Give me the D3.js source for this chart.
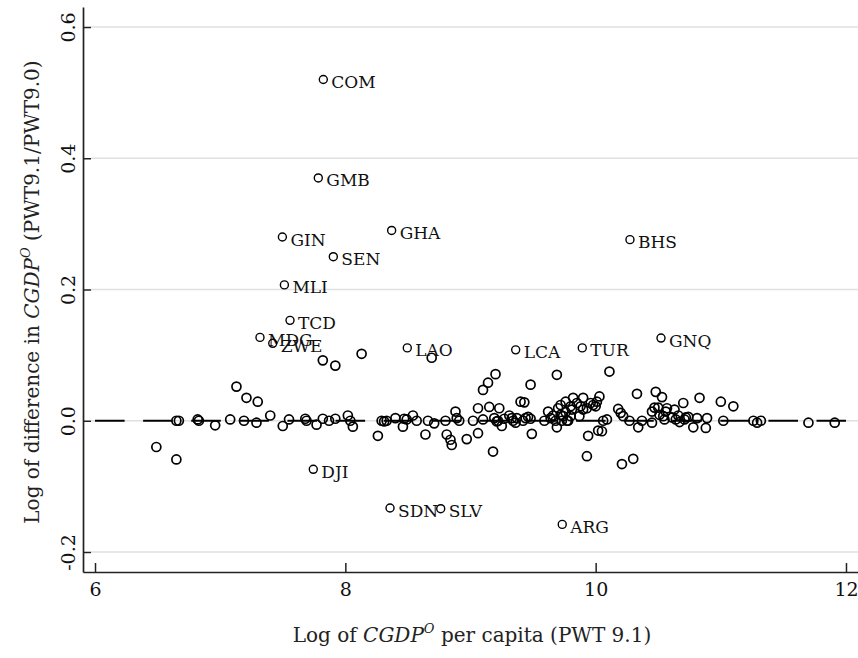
<!DOCTYPE html>
<html>
<head>
<meta charset="utf-8">
<script src="https://cdn.jsdelivr.net/npm/d3@7"></script>
<style>
body { margin:0; background:#fff; }
</style>
</head>
<body>
<script>
// unlabelled countries: log CGDPo per capita, log difference
var gdpX = [6.49,6.65,6.65,6.67,6.82,6.83,6.96,7.08,7.13,7.19,7.21,7.29,7.30,7.40,7.50,7.55,7.68,7.69,7.77,7.82,
	7.82,7.87,7.92,7.92,8.02,8.04,8.06,8.13,8.26,8.29,8.31,8.33,8.40,8.46,8.47,8.49,8.54,8.57,8.64,8.66,
	8.69,8.71,8.80,8.81,8.84,8.85,8.88,8.89,8.91,8.97,9.02,9.06,9.06,9.10,9.10,9.14,9.20,9.15,9.19,9.21,
	9.22,9.23,9.25,9.18,9.27,9.31,9.33,9.34,9.36,9.37,9.40,9.43,9.42,9.44,9.46,9.48,9.48,9.49,9.59,9.62,
	9.64,9.66,9.68,9.69,9.69,9.70,9.72,9.72,9.73,9.74,9.76,9.76,9.77,9.78,9.80,9.80,9.81,9.82,9.85,9.87,
	9.88,9.90,9.90,9.93,9.93,9.94,9.96,9.98,10.00,10.01,10.02,10.03,10.05,10.06,10.09,10.11,10.18,10.20,10.21,10.22,
	10.27,10.30,10.33,10.34,10.37,10.45,10.45,10.48,10.47,10.50,10.53,10.51,10.54,10.56,10.57,10.55,10.63,10.61,10.64,10.66,
	10.67,10.70,10.71,10.72,10.74,10.78,10.81,10.83,10.88,10.89,11.00,11.02,11.10,11.26,11.29,11.32,11.70,11.91];
var diffY = [-0.040,-0.059,0.000,0.000,0.002,0.000,-0.007,0.002,0.052,0.000,0.035,-0.003,0.029,0.008,-0.008,0.002,0.003,0.000,-0.006,0.003,
	0.092,0.000,0.003,0.084,0.008,0.000,-0.009,0.102,-0.023,0.000,-0.001,0.000,0.004,-0.009,0.003,0.002,0.008,0.000,-0.021,0.000,
	0.096,-0.004,0.000,-0.021,-0.029,-0.037,0.014,0.004,0.000,-0.028,0.000,0.019,-0.019,0.047,0.002,0.058,0.071,0.021,0.004,-0.001,
	0.000,0.019,-0.008,-0.047,0.003,0.008,0.004,0.000,-0.003,0.004,0.029,0.028,0.000,0.004,0.006,0.055,0.003,-0.020,0.000,0.014,
	0.004,0.008,0.000,-0.010,0.070,0.019,0.009,0.024,0.000,0.007,0.013,0.029,0.000,0.000,0.007,0.022,0.017,0.035,0.027,0.007,
	0.022,0.035,0.017,0.019,-0.054,-0.023,0.027,0.024,0.022,0.029,-0.015,0.037,-0.016,0.000,0.002,0.075,0.018,0.012,-0.066,0.007,
	0.000,-0.058,0.041,-0.010,0.000,-0.003,0.014,0.044,0.020,0.020,0.036,0.009,0.007,0.014,0.019,0.002,0.017,0.005,0.002,0.008,
	-0.002,0.027,0.002,0.005,0.006,-0.010,0.004,0.035,-0.011,0.004,0.029,0.000,0.022,0.000,-0.003,0.000,-0.003,-0.003];

// labelled countries
var labCodes = ["COM","GMB","GIN","GHA","SEN","MLI","BHS","TCD","MDG","ZWE","LAO","LCA","TUR","GNQ","DJI","SDN","SLV","ARG"];
var labX = [7.824,7.784,7.497,8.370,7.904,7.513,10.274,7.558,7.318,7.420,8.495,9.361,9.893,10.522,7.744,8.357,8.762,9.733];
var labY = [0.520,0.370,0.280,0.290,0.250,0.207,0.276,0.153,0.127,0.118,0.111,0.108,0.111,0.126,-0.074,-0.133,-0.134,-0.158];

var xTicks = [6,8,10,12];
var yTicks = [-0.2,0.0,0.2,0.4,0.6];

function init(){
	var w = 858;
	var h = 658;
	var left = 83;
	var top = 7;
	var right = 858;
	var bottom = 572;
	var font = "DejaVu Serif";

	var xScale = d3.scaleLinear()
				   .domain([5.904,12.096])
				   .range([left,right]);
	var yScale = d3.scaleLinear()
				   .domain([-0.2305,0.6305])
				   .range([bottom,top]);

	var svg = d3.select("body")
				.append("svg")
				.attr("width",w)
				.attr("height",h)
				.style("font-family",font);

	// gridlines
	svg.append("g")
	   .selectAll("line")
	   .data(yTicks)
	   .enter()
	   .append("line")
	   .attr("x1",left+8)
	   .attr("x2",right)
	   .attr("y1",function(d){ return yScale(d); })
	   .attr("y2",function(d){ return yScale(d); })
	   .attr("stroke","#e0e0e0")
	   .attr("stroke-width",1.3);

	// zero reference line
	svg.append("line")
	   .attr("x1",xScale(6))
	   .attr("x2",xScale(12))
	   .attr("y1",yScale(0))
	   .attr("y2",yScale(0))
	   .attr("stroke","#000")
	   .attr("stroke-width",1.8)
	   .attr("stroke-dasharray","29.6,18.5");

	// points
	svg.append("g")
	   .selectAll("circle")
	   .data(gdpX)
	   .enter()
	   .append("circle")
	   .attr("cx",function(d){ return xScale(d); })
	   .attr("cy",function(d,i){ return yScale(diffY[i]); })
	   .attr("r",4.5)
	   .attr("fill","none")
	   .attr("stroke","#000")
	   .attr("stroke-width",1.7);

	var lab = svg.append("g")
				 .selectAll("g")
				 .data(labCodes)
				 .enter()
				 .append("g")
				 .attr("transform",function(d,i){
					 return "translate("+xScale(labX[i])+","+yScale(labY[i])+")";
				 });
	lab.append("circle")
	   .attr("r",4)
	   .attr("fill","none")
	   .attr("stroke","#000")
	   .attr("stroke-width",1.4);
	lab.append("text")
	   .attr("x",8)
	   .attr("y",8.5)
	   .attr("font-size",17)
	   .attr("fill","#111")
	   .text(function(d){ return d; });

	// axes
	var xAxis = d3.axisBottom(xScale)
				  .tickValues(xTicks)
				  .tickSizeInner(-9)
				  .tickSizeOuter(0)
				  .tickPadding(11)
				  .tickFormat(function(d){ return String(d); });
	var gx = svg.append("g")
	   .attr("transform","translate(0,"+bottom+")")
	   .call(xAxis)
	   .attr("font-family",font)
	   .attr("font-size",19);
	gx.selectAll("text").attr("fill","#111");

	var yAxis = d3.axisLeft(yScale)
				  .tickValues(yTicks)
				  .tickSizeInner(-8)
				  .tickSizeOuter(0)
				  .tickFormat(function(d){ return d.toFixed(1); });
	var gy = svg.append("g")
	   .attr("transform","translate("+left+",0)")
	   .call(yAxis)
	   .attr("font-family",font)
	   .attr("font-size",19);
	gy.selectAll("text")
	  .attr("transform","rotate(-90)")
	  .attr("x",0)
	  .attr("y",-8)
	  .attr("dy",0)
	  .attr("fill","#111")
	  .style("text-anchor","middle");

	svg.selectAll(".domain").attr("stroke","#222").attr("stroke-width",1.7);
	svg.selectAll(".tick line").attr("stroke","#222").attr("stroke-width",1.5);

	// axis titles
	var xt = svg.append("text")
	   .attr("x",472)
	   .attr("y",642)
	   .attr("font-size",20)
	   .attr("fill","#222")
	   .style("text-anchor","middle");
	xt.append("tspan").text("Log of ");
	xt.append("tspan").style("font-style","italic").text("CGDP");
	xt.append("tspan").style("font-style","italic").attr("font-size",13).attr("dy",-9).text("O");
	xt.append("tspan").attr("dy",9).text(" per capita (PWT 9.1)");

	var yt = svg.append("text")
	   .attr("transform","translate(39,292) rotate(-90)")
	   .attr("font-size",20)
	   .attr("fill","#222")
	   .style("text-anchor","middle");
	yt.append("tspan").text("Log of difference in ");
	yt.append("tspan").style("font-style","italic").text("CGDP");
	yt.append("tspan").style("font-style","italic").attr("font-size",13).attr("dy",-9).text("O");
	yt.append("tspan").attr("dy",9).text(" (PWT9.1/PWT9.0)");
}

window.onload = init;
</script>
</body>
</html>
